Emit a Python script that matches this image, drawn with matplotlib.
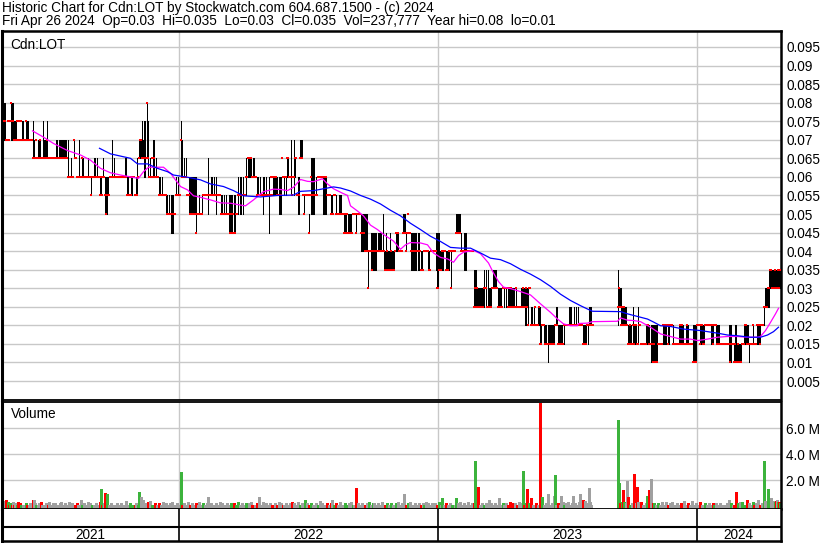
import numpy as np
import pandas as pd
import matplotlib.pyplot as plt

# price levels: one character per bar, each step = 0.005 ('.' = no trade)
LEVELS = "0123456789abcdefghij"

high_str = """
ggeefefggg ffffefefff eefffeeeef ededeeeddf eeefdddddd ddeedeeeee eeedeccdcc eddcceccdd
ccccdccccc ddcdccccbd cccccbccec dccccccccc cddccbcccc cbcdceeefe ffdgfcdcde ecdccccbcb
bbbbababbb aacbcbbfec dcdbbccccc cccaabaabb bbbbdbbccb cbcbbbbbba babaabbbba bbaacbccbc
bbdcddddcd dccccbcbbc cbcbbcbcbc ccccbcccdc cccddccebc eddbcceeeb bbbbbabddd dbcbcccccc
cccbbbbbba bbbaabbbaa aaaaaaaa9a aaaaaaaaaa aaaa888999 999899998a 8898889888 889998888a
aa99a99999 9998998887 8888887888 8899998888 8888888888 88aaaaa988 9998888888 7776666666
7675766667 7776666656 6666666666 6566555666 6666666554 5544555444 4443444444 4455444443
4444455544 5454544444 4443455544 .......... .......... ....766655 5554444435 4443544333
3344443444 4444333334 4444444444 3333344444 3344433334 4444444444 4444444444 4444443333
3333344433 3443333333 4444433334 3334444444 5666677777 7777777
"""
low_str = """
eeeefefeee eeefefefee eeeeeeeeed ddeddddddd dddddddddd dddddddddd ddddcccccc dddccccccc
cccccccbcc ccccccbbbc caaabbcccc cccccccccc cccbbbcbbc cbbbcddddd ccddccccdc cccccbbbbb
bbaaaaa999 aabbbbbccc cccbbaaaaa aa9aaaaaab bbbbabbbbb bbabbbbaaa aaaaa9999a 99aaabaaba
bbbccccccc cccbbbbbba bbbbb9bcbb bbbbbaaadc bcbccccbbc bcdbaadddb abbbb9baaa abbbccccca
aaabbbbaaa bbaaaaaaaa 999a99999a aa9aaaa888 8888688777 7778888888 7777777777 7888888889
9989a99777 7778778777 8888777888 8876677777 8877778688 8899999888 7778888888 5555555555
5655555566 6666555556 5656555555 5556555555 5445466444 4544443344 3333233333 3444333333
3444444444 4444444443 3333344444 .......... .......... ....455444 4444333333 3333344333
3333333222 2222333333 3334334443 3333333333 3333333332 2224443333 3444444333 4433333333
3333322233 2222222233 3333323333 3333333444 4555556666 6666666
"""
close_str = """
ffeefefgff eeefefefee eefeeeeeed ddedddeddd dddedddddd dddddddddd ddddcccccc eddcccccdc
cccccccbcc ccccccbcbc cbabbbcccc cccccccccc cccbbbcbcc cbbbcdeedd dddgdcccdc dccccbbbbb
bbbaaaaaaa aabbbbbecc cccbbbaaaa aa9aaaaaab bbbbbbbbbb bbbbbbbaaa aaaaaa9a9a 99aabbbbbb
bbccddddcc cccbbbbbbb bbbbbbbcbc cccbbbbbdc cccddcccbc cddbbbdddb abbbb9bcbb bbbbcccccc
cccbbbbaaa bbaaaaaaaa 9a9a99999a aa9aaaa999 9888688878 8888888888 8778777877 7899988889
9989a99888 8888888777 8888877888 8886677788 8877788688 8899999888 8888888888 5656555555
6665555566 6666555556 6666565655 5565555556 5565466444 4544453344 4333333333 3444333333
4444444444 4444444443 3334444444 .......... .......... ....565454 5444334334 3443344333
3334433332 3222333334 4444344443 3333334343 3334333332 2224443443 3444444443 4443333333
3333332333 2322322233 3443333334 3334443444 5555667766 6766767
"""
# daily volume in units of 100,000 shares (base-36 digits)
volume_str = """
2450312113 1201302101 0121012015 5210120310 1020130112 0210102301 1201031020 0102100510
2010302010 1020103d12 2a29010201 0102010201 1040102010 01201b0705 1020304010 0201020103
1020102030 0102010q10 2100301020 1020130102 0102710201 1020103021 0102010201 2010301020
1020120310 0102070103 1020102010 0201030201 1020102030 2010301020 0502010201 1020104020
0102010250 1020103010 0201020301 10e0201020 0102030102 2010201030 0102010201 1020301020
9010203010 0201020102 1030201020 0201030160 1020102010 0160203010 2010301020 2z03f01020
1020150201 0201060102 1020103020 020103020r 102d020601 1020100070 1020901020 8o10201803
1020301028 0201039015 04102e3100 0000000000 0000000000 00000i203c 302j701020 p02f302301
10280c0l02 2010201030 1030102030 0102010201 4010201040 1020103010 0201020102 1020102010
0102050201 10b0203030 0105020103 1020501020 z402d02602 4345332
"""
big_vol_idx = [536, 614]
big_vol = [7.9, 6.6]  # millions

# moving averages (bar index, price)
ma_fast_idx = [29, 40, 50, 64, 77, 87, 97, 107, 117, 127, 135, 140, 145, 154, 160, 167, 170,
               177, 184, 190, 197, 207, 217, 227, 237, 242, 250, 260, 270, 277, 284, 290, 297,
               304, 310, 319, 324, 330, 339, 344, 347, 354, 360, 367, 374, 380, 390, 397, 402,
               407, 417, 424, 430, 437, 444, 450, 455, 460, 470, 477, 485, 490, 495, 500, 507,
               517, 527, 537, 547, 554, 560, 567, 574, 575, 584, 589, 614, 617, 624, 630, 637,
               647, 657, 667, 677, 687, 694, 704, 714, 724, 734, 744, 754, 757, 762, 767, 772, 775]
ma_fast = [0.0724, 0.0707, 0.0690, 0.0671, 0.0659, 0.0645, 0.0623, 0.0611, 0.0605, 0.0600,
           0.0596, 0.0614, 0.0626, 0.0626, 0.0626, 0.0610, 0.0599, 0.0574, 0.0565, 0.0549,
           0.0545, 0.0538, 0.0530, 0.0529, 0.0524, 0.0522, 0.0538, 0.0560, 0.0567, 0.0566,
           0.0563, 0.0572, 0.0593, 0.0588, 0.0587, 0.0595, 0.0581, 0.0568, 0.0556, 0.0550,
           0.0522, 0.0508, 0.0495, 0.0470, 0.0458, 0.0445, 0.0427, 0.0405, 0.0417, 0.0423,
           0.0422, 0.0417, 0.0395, 0.0383, 0.0379, 0.0370, 0.0388, 0.0397, 0.0402, 0.0393,
           0.0368, 0.0341, 0.0318, 0.0303, 0.0299, 0.0291, 0.0282, 0.0258, 0.0235, 0.0217,
           0.0204, 0.0199, 0.0199, 0.0205, 0.0206, 0.0210, 0.0211, 0.0220, 0.0214, 0.0213,
           0.0210, 0.0195, 0.0177, 0.0170, 0.0163, 0.0163, 0.0159, 0.0163, 0.0168, 0.0170,
           0.0170, 0.0168, 0.0168, 0.0170, 0.0186, 0.0208, 0.0231, 0.0246]
ma_slow_idx = [96, 107, 117, 127, 134, 144, 154, 164, 170, 184, 197, 207, 220, 230, 240, 257,
               274, 290, 297, 310, 324, 330, 337, 347, 357, 367, 377, 387, 397, 407, 417, 427,
               437, 447, 457, 467, 477, 487, 497, 507, 517, 527, 537, 547, 557, 567, 577, 584,
               589, 617, 624, 634, 644, 650, 657, 667, 680, 697, 714, 724, 734, 747, 757, 764,
               770, 775]
ma_slow = [0.0677, 0.0662, 0.0656, 0.0650, 0.0635, 0.0635, 0.0623, 0.0614, 0.0605, 0.0599,
           0.0592, 0.0581, 0.0574, 0.0563, 0.0549, 0.0546, 0.0550, 0.0551, 0.0561, 0.0563,
           0.0570, 0.0573, 0.0570, 0.0562, 0.0550, 0.0540, 0.0527, 0.0510, 0.0495, 0.0475,
           0.0458, 0.0440, 0.0426, 0.0410, 0.0408, 0.0408, 0.0395, 0.0381, 0.0377, 0.0366,
           0.0351, 0.0338, 0.0323, 0.0305, 0.0284, 0.0267, 0.0253, 0.0244, 0.0238, 0.0237,
           0.0231, 0.0224, 0.0217, 0.0209, 0.0199, 0.0197, 0.0190, 0.0186, 0.0179, 0.0174,
           0.0172, 0.0168, 0.0168, 0.0174, 0.0183, 0.0195]

year_idx = [175, 434, 693]
year_labels = ["2021", "2022", "2023", "2024"]
price_ticks = [0.005 * k for k in range(1, 20)]
vol_ticks = [2, 4, 6]

header1 = "Historic Chart for Cdn:LOT by Stockwatch.com 604.687.1500 - (c) 2024"
header2 = ("Fri Apr 26 2024  Op=0.03  Hi=0.035  Lo=0.03  Cl=0.035  Vol=237,777  "
           "Year hi=0.08  lo=0.01")


def to_price(s):
    s = "".join(s.split())
    return np.array([np.nan if c == "." else LEVELS.index(c) * 0.005 for c in s])


high = to_price(high_str)
low = to_price(low_str)
close = to_price(close_str)
vol = np.array([int(c, 36) / 10 for c in "".join(volume_str.split())])
vol[big_vol_idx] = big_vol
x = np.arange(len(close))

prev = pd.Series(close).ffill().shift(1).to_numpy()
vcol = np.where(close > prev, "#3cb33c", np.where(close < prev, "#ff0000", "#a0a0a0"))

plt.rcParams["font.family"] = ["Liberation Sans", "DejaVu Sans"]
FS = 9.8
W, H = 830, 543
GRID = "#c8c8c8"


def box(l, t, r, b):
    return [l / W, 1 - b / H, (r - l) / W, (b - t) / H]


fig = plt.figure(figsize=(W / 100, H / 100), dpi=100)
ax = fig.add_axes(box(1.5, 31, 780.5, 399.5))
axv = fig.add_axes(box(1.5, 401.5, 780.5, 509))
axd = fig.add_axes(box(1.5, 509, 780.5, 541))

xl = (-2, 777)

# price panel
ax.set_xlim(*xl)
ax.set_ylim((399.6 - 399.5) / 3712, (399.6 - 31) / 3712)
ax.set_yticks(price_ticks)
ax.set_yticklabels(["%g" % round(t, 3) for t in price_ticks])
ax.yaxis.tick_right()
ax.set_xticks([])
ax.grid(axis="y", color=GRID, lw=1.0)
for yi in year_idx:
    ax.axvline(yi, color=GRID, lw=1.0, zorder=0.5)
ok = ~np.isnan(close)
ax.vlines(x[ok], low[ok], high[ok], colors="black", lw=0.72, antialiased=False, zorder=2)
ax.hlines(close[ok], x[ok] - 0.6, x[ok] + 1.0, colors="#ff0000", lw=1.44,
          antialiased=False, zorder=3)
ax.plot(ma_fast_idx, ma_fast, color="#ff00ff", lw=0.9, zorder=4)
ax.plot(ma_slow_idx, ma_slow, color="#0000ff", lw=0.9, zorder=4)
ax.text(7, 0.0955, "Cdn:LOT", fontsize=FS, va="center")

# volume panel
axv.set_xlim(*xl)
axv.set_ylim(-0.23, 8.04)
axv.set_yticks(vol_ticks)
axv.set_yticklabels(["%.1f M" % v for v in vol_ticks])
axv.yaxis.tick_right()
axv.set_xticks([])
axv.grid(axis="y", color=GRID, lw=1.0)
for yi in year_idx:
    axv.axvline(yi, color=GRID, lw=1.0, zorder=0.5)
vk = vol > 0
axv.vlines(x[vk], -0.23, vol[vk], colors=vcol[vk], lw=1.0, antialiased=False, zorder=2)
axv.text(7, 7.1, "Volume", fontsize=FS, va="center")

# date strip
axd.set_xlim(*xl)
axd.set_ylim(0, 1)
axd.set_xticks([])
axd.set_yticks([])
axd.axhline(14 / 32, color="black", lw=1.5)
for yi in year_idx:
    axd.axvline(yi, color="black", lw=1.2)
edges = [xl[0]] + year_idx + [xl[1]]
for i, lab in enumerate(year_labels):
    axd.text((edges[i] + edges[i + 1]) / 2, 0.2, lab, ha="center", va="center", fontsize=FS)

for a in (ax, axv, axd):
    a.tick_params(length=0, pad=4, labelsize=FS)
    a.set_facecolor("white")
    for s in a.spines.values():
        s.set_color("black")
        s.set_linewidth(1.3)
    a.spines["left"].set_linewidth(2.2)
    a.spines["right"].set_linewidth(1.8)
axd.spines["top"].set_visible(False)
ax.spines["top"].set_linewidth(1.8)
axd.spines["bottom"].set_linewidth(1.8)

fig.text(2 / W, 1 - 8 / H, header1, fontsize=FS, va="center")
fig.text(2 / W, 1 - 21.5 / H, header2, fontsize=FS, va="center")

fig.savefig("out.png", dpi=100)
